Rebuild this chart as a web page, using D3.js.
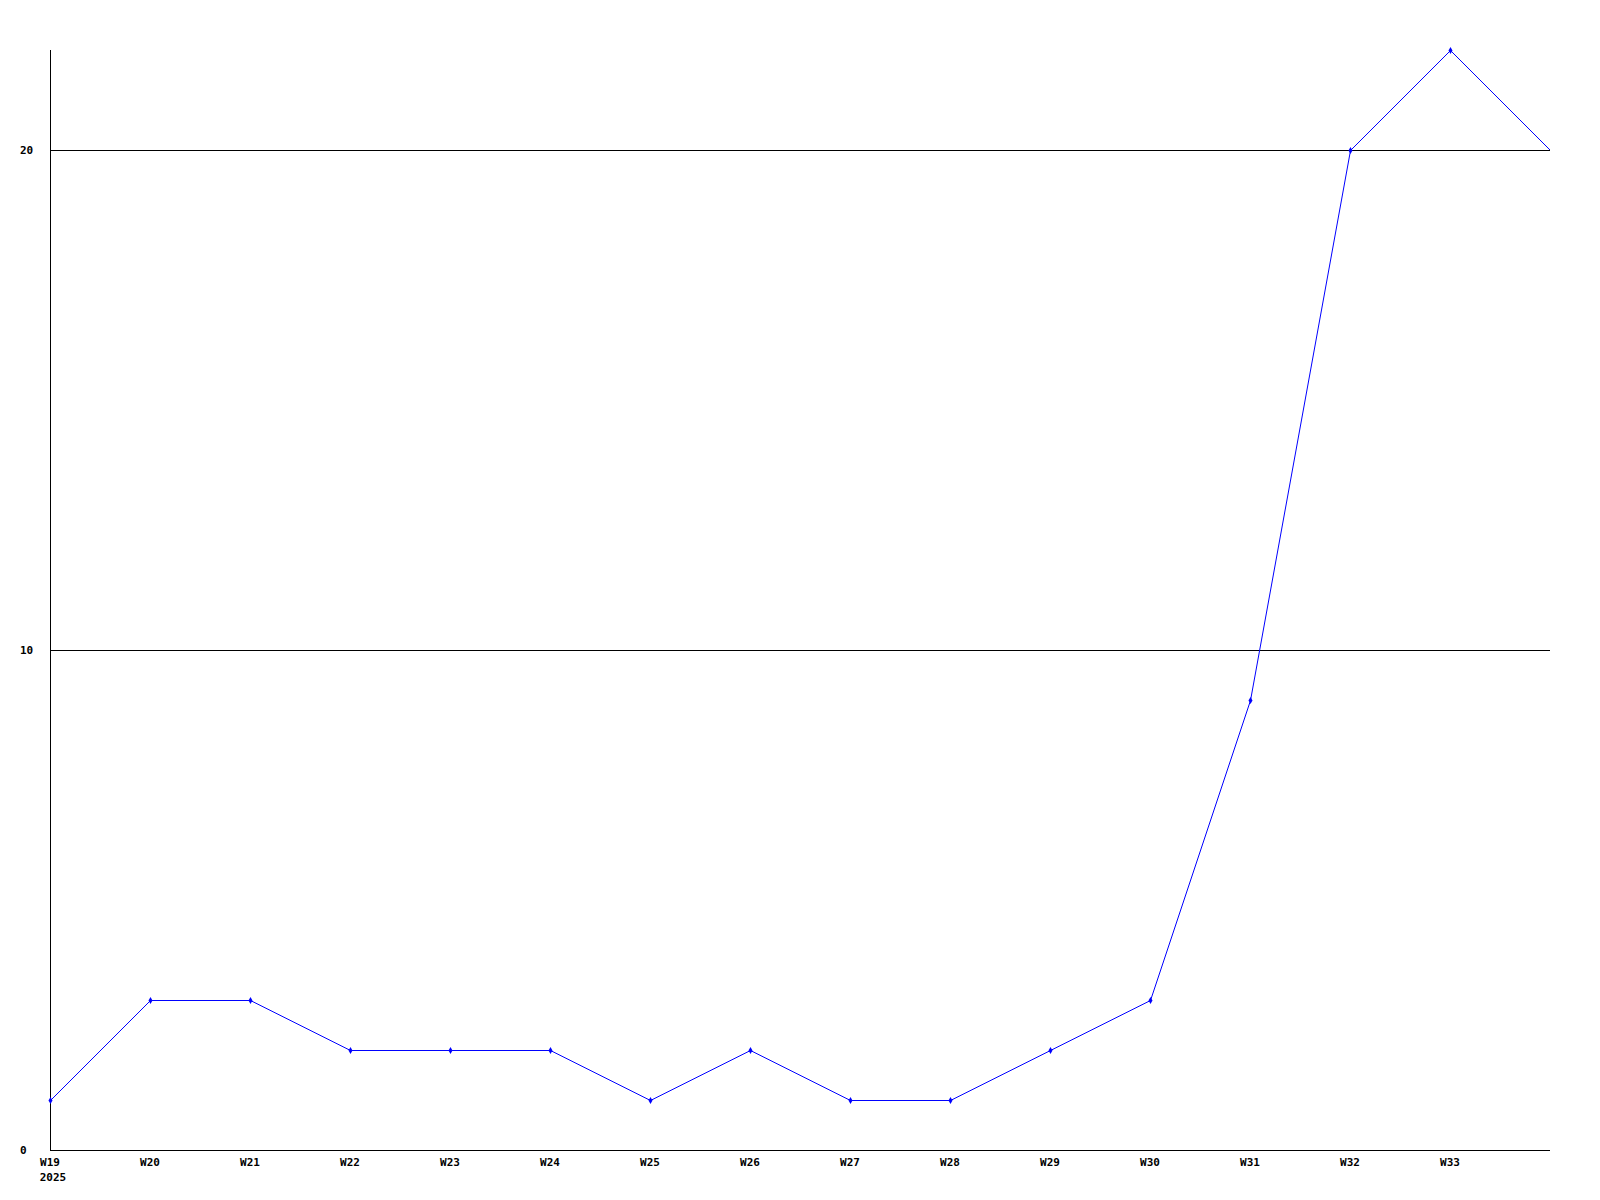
<!DOCTYPE html>
<html>
<head>
<meta charset="utf-8">
<script src="https://cdn.jsdelivr.net/npm/d3@7"></script>
<style>
  html, body { margin: 0; padding: 0; background: #fff; }
  svg { display: block; }
  text { font-family: "DejaVu Sans Mono", "Liberation Mono", monospace; font-weight: bold; font-size: 11px; fill: #000; }
</style>
</head>
<body>
<svg id="chart" width="1600" height="1200"></svg>
<script>
const weeks = ["W19","W20","W21","W22","W23","W24","W25","W26","W27","W28","W29","W30","W31","W32","W33","W34"];
const values = [1, 3, 3, 2, 2, 2, 1, 2, 1, 1, 2, 3, 9, 20, 22, 20];
const yTicks = [0, 10, 20];
const yearLabel = "2025";

(function () {
const svg = d3.select("#chart");
const mLeft = 50, mRight = 1550, mTop = 50, mBottom = 1150;

const x = d3.scalePoint().domain(weeks).range([mLeft, mRight]);
const y = d3.scaleLinear().domain([0, 22]).range([mBottom, mTop]);

svg.append("defs").append("clipPath").attr("id", "plotclip")
  .append("rect").attr("x", 0).attr("y", mTop - 5).attr("width", mRight).attr("height", mBottom - mTop + 5);

// gridlines
svg.append("g").selectAll("line").data(yTicks.filter(d => d > 0)).join("line")
  .attr("x1", mLeft).attr("x2", mRight)
  .attr("y1", d => Math.round(y(d)) + 0.5).attr("y2", d => Math.round(y(d)) + 0.5)
  .attr("stroke", "#000").attr("stroke-width", 1);

// axes lines
svg.append("line").attr("x1", mLeft + 0.5).attr("x2", mLeft + 0.5).attr("y1", mTop).attr("y2", mBottom + 0.5)
  .attr("stroke", "#000");
svg.append("line").attr("x1", mLeft).attr("x2", mRight).attr("y1", mBottom + 0.5).attr("y2", mBottom + 0.5)
  .attr("stroke", "#000");

// y labels
svg.append("g").selectAll("text").data(yTicks).join("text")
  .attr("x", 20).attr("y", d => y(d) + 4)
  .text(d => d);

// x labels (skip last week)
svg.append("g").selectAll("text").data(weeks.slice(0, weeks.length - 1)).join("text")
  .attr("x", d => x(d)).attr("y", 1166).attr("text-anchor", "middle")
  .text(d => d);
svg.append("text").attr("x", x(weeks[0]) + 3).attr("y", 1181).attr("text-anchor", "middle").text(yearLabel);

// line
const g = svg.append("g").attr("clip-path", "url(#plotclip)");
const line = d3.line().x((d, i) => x(weeks[i]) + 0.5).y(d => Math.round(y(d)) + 0.5);
g.append("path").datum(values).attr("d", line)
  .attr("fill", "none").attr("stroke", "#0000ff").attr("stroke-width", 1);

// markers (not at last point)
g.selectAll("path.m").data(values.slice(0, values.length - 1)).join("path")
  .attr("class", "m")
  .attr("transform", (d, i) => `translate(${x(weeks[i]) + 0.5},${Math.round(y(d)) + 0.5})`)
  .attr("d", d3.symbol(d3.symbolDiamond, 14))
  .attr("fill", "#0000ff");
})();
</script>
</body>
</html>
